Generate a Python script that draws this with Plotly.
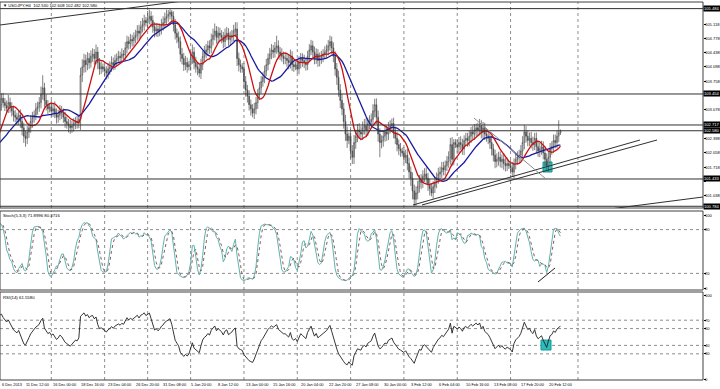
import numpy as np
import pandas as pd
import plotly.graph_objects as go
from datetime import datetime, timedelta, date

# ---------------- DATA ----------------
title_text = "USDJPY,H4  102.530 102.608 102.482 102.580"
stoch_text = "Stoch(5,3,3) 71.8996 80.3716"
rsi_text = "RSI(14) 61.5580"

# H4 closes, Dec 1 2013 (Sun 20:00) .. Feb 21 2014 20:00
close = [
 102.45,
 102.60, 102.75, 102.90, 103.10, 103.25, 103.10,
 102.95, 102.80, 102.65, 102.55, 102.60, 102.50,
 102.45, 102.35, 102.20, 102.05, 101.95, 102.15,
 102.10, 101.95, 101.85, 101.75, 101.95, 102.05,
 102.00, 102.10, 102.15, 102.30, 102.80, 102.90,
 102.95,
 103.05, 103.20, 103.35, 103.25, 103.18, 103.12,
 103.25, 103.15, 103.05, 102.95, 102.90, 102.85,
 102.95, 102.80, 102.65, 102.45, 102.40, 102.55,
 102.65, 102.80, 102.90, 102.95, 103.10, 103.15,
 103.25, 103.45, 103.60, 103.30, 103.20, 103.10,
 103.15,
 103.05, 103.10, 103.00, 102.90, 102.95, 103.05,
 103.00, 102.90, 102.80, 102.75, 102.70, 102.65,
 102.70, 102.75, 102.80, 102.78, 102.85, 103.90,
 104.10, 104.25, 104.15, 104.30, 104.20, 104.35,
 104.40, 104.30, 104.45, 104.20, 104.05, 104.10,
 104.05,
 104.00, 103.95, 104.05, 104.10, 104.20, 104.15,
 104.25, 104.30, 104.35, 104.32, 104.40, 104.38,
 104.55, 104.70, 104.65, 104.75, 104.72, 104.80,
 104.85, 104.95, 104.90, 105.05, 105.10, 105.20,
 105.15,
 105.25, 105.30, 105.20, 105.05, 104.95, 105.00,
 104.95, 105.00, 105.10, 105.15, 105.25, 105.30,
 105.35, 105.40, 105.30, 105.10, 104.90, 104.80,
 104.70, 104.40, 104.30, 104.15, 104.20, 104.10,
 104.15,
 104.30, 104.45, 104.20, 104.10, 104.05, 103.95,
 104.15, 104.35, 104.45, 104.50, 104.60, 104.55,
 104.75, 104.85, 104.95, 104.80, 104.90, 104.85,
 104.80, 104.70, 104.85, 104.90, 104.75, 104.80,
 104.85, 104.95, 105.00, 104.30, 104.15, 104.10,
 104.05,
 103.75, 103.55, 103.40, 103.20, 103.10, 103.00,
 103.10, 103.25, 103.45, 103.60, 103.75, 103.85,
 104.00, 104.15, 104.30, 104.40, 104.50, 104.45,
 104.55, 104.60, 104.45, 104.40, 104.35, 104.30,
 104.30, 104.25, 104.20, 104.35, 104.15, 104.10,
 104.15,
 104.05, 104.20, 104.30, 104.25, 104.20, 104.15,
 104.35, 104.50, 104.60, 104.45, 104.30, 104.40,
 104.25, 104.30, 104.35, 104.40, 104.45, 104.50,
 104.60, 104.70, 104.55, 104.35, 104.05, 103.85,
 103.55, 103.30, 103.10, 102.80, 102.50, 102.35,
 102.45,
 102.10, 101.95, 102.30, 102.45, 102.60, 102.55,
 102.50, 102.65, 102.70, 102.60, 102.75, 102.80,
 102.85, 103.05, 103.20, 102.90, 102.50, 102.30,
 102.35, 102.45, 102.55, 102.50, 102.65, 102.70,
 102.75, 102.55, 102.40, 102.25, 102.15, 102.10,
 102.05,
 101.95, 102.00, 101.80, 101.60, 101.45, 101.15,
 100.95, 101.10, 101.25, 101.40, 101.35, 101.50,
 101.55, 101.45, 101.30, 101.20, 101.10, 101.25,
 101.35, 101.45, 101.55, 101.60, 101.70, 101.65,
 101.75, 101.85, 101.95, 102.25, 101.90, 102.30,
 102.25,
 102.20, 102.30, 102.25, 102.15, 102.35, 102.40,
 102.35, 102.45, 102.55, 102.50, 102.60, 102.65,
 102.60, 102.70, 102.55, 102.65, 102.50, 102.45,
 102.40, 102.30, 102.15, 102.00, 101.85, 101.90,
 101.95, 101.85, 101.90, 101.80, 101.75, 101.80,
 101.75,
 101.70, 101.60, 101.80, 101.90, 101.95, 102.00,
 102.10, 102.30, 102.55, 102.45, 102.35, 102.40,
 102.30, 102.25, 102.40, 102.20, 102.10, 102.15,
 102.20, 102.05, 101.90, 101.75, 101.95, 102.15,
 102.20, 102.35, 102.30, 102.45, 102.53, 102.58,
]

# upper / lower shadows in 0.01 JPY
upper_wick = [
 8,
 14, 12, 16, 15, 20, 12,   11, 13, 12, 14, 11, 12,   12, 11, 14, 12, 16, 11,   13, 11, 12, 14, 11, 12,   11, 12, 11, 16, 25, 14,
 9,
 14, 16, 12, 13, 11, 12,   18, 12, 11, 13, 12, 11,   12, 14, 11, 12, 13, 14,   12, 15, 13, 11, 14, 12,   13, 18, 30, 12, 14, 11,
 8,
 16, 12, 18, 11, 13, 14,   12, 11, 13, 12, 11, 14,   12, 13, 11, 14, 12, 18,   18, 16, 14, 15, 13, 14,   14, 12, 18, 12, 11, 13,
 8,
 12, 11, 14, 13, 15, 12,   14, 12, 13, 11, 14, 10,   14, 14, 12, 13, 11, 12,   13, 14, 15, 14, 16, 14,
 9,
 18, 16, 12, 12, 11, 14,   12, 13, 14, 15, 14, 16,   10, 8, 5, 12, 14, 11,   14, 12, 15, 13, 16, 12,
 9,
 16, 18, 12, 14, 11, 12,   14, 13, 15, 14, 12, 13,   14, 16, 18, 12, 15, 13,   12, 13, 16, 15, 12, 14,   13, 15, 16, 16, 14, 12,
 9,
 14, 13, 12, 14, 12, 11,   14, 13, 12, 14, 13, 12,   13, 14, 12, 15, 14, 12,   14, 24, 13, 12, 14, 11,   13, 12, 14, 16, 12, 11,
 8,
 14, 15, 13, 12, 14, 11,   13, 14, 14, 12, 13, 14,   12, 14, 13, 12, 14, 13,   14, 14, 12, 13, 12, 14,   16, 14, 15, 14, 16, 18,
 9,
 16, 14, 18, 15, 14, 16,   14, 15, 16, 18, 14, 15,   14, 16, 14, 15, 16, 14,   12, 14, 15, 16, 14, 13,   12, 14, 13, 15, 12, 14,
 8,
 14, 13, 15, 14, 13, 14,   15, 16, 14, 13, 15, 14,   14, 16, 13, 14, 12, 13,   13, 14, 15, 13, 14, 14,   12, 13, 14, 16, 18, 8,
 8,
 12, 13, 15, 14, 12, 13,   13, 14, 12, 15, 14, 10,   12, 16, 13, 14, 12, 13,   14, 13, 15, 12, 13, 14,   13, 14, 12, 15, 13, 14,
 8,
 13, 14, 12, 15, 14, 13,   14, 15, 17, 14, 13, 14,   15, 14, 13, 14, 13, 14,   14, 13, 12, 14, 15, 14,   13, 14, 14, 14, 30, 3,
]
lower_wick = [
 8,
 16, 12, 11, 13, 12, 14,   13, 12, 14, 12, 13, 12,   11, 13, 12, 14, 12, 15,   12, 14, 13, 16, 11, 12,   14, 12, 13, 12, 18, 14,
 9,
 12, 11, 14, 12, 13, 12,   12, 14, 13, 15, 12, 13,   14, 15, 18, 16, 20, 14,   14, 12, 15, 13, 12, 14,   12, 14, 13, 16, 14, 12,
 8,
 13, 14, 12, 15, 13, 12,   14, 13, 15, 12, 16, 14,   12, 14, 13, 15, 14, 25,   16, 14, 18, 13, 15, 12,   13, 15, 14, 16, 14, 12,
 8,
 14, 15, 13, 14, 12, 13,   12, 13, 11, 14, 12, 11,   12, 13, 14, 12, 14, 13,   14, 13, 15, 12, 13, 14,
 9,
 13, 14, 16, 14, 15, 13,   14, 12, 13, 14, 12, 13,   13, 12, 14, 16, 15, 14,   16, 18, 14, 15, 13, 14,
 9,
 14, 13, 16, 14, 15, 10,   14, 13, 12, 15, 13, 14,   13, 14, 12, 15, 13, 14,   14, 16, 13, 12, 15, 13,   12, 14, 13, 18, 16, 14,
 9,
 18, 16, 15, 14, 16, 10,   14, 13, 15, 14, 13, 12,   14, 12, 13, 14, 12, 14,   13, 14, 15, 14, 13, 14,   14, 15, 16, 14, 15, 12,
 8,
 10, 13, 14, 15, 13, 14,   13, 14, 12, 15, 14, 13,   15, 14, 13, 14, 12, 13,   13, 12, 15, 14, 16, 18,   16, 18, 15, 17, 16, 18,
 9,
 18, 16, 16, 15, 14, 16,   15, 14, 16, 15, 14, 13,   14, 13, 15, 16, 18, 35,   14, 15, 13, 16, 14, 13,   13, 15, 14, 16, 15, 14,
 8,
 15, 14, 16, 15, 18, 20,   17, 16, 15, 14, 16, 13,   14, 13, 15, 16, 8, 14,   15, 14, 13, 15, 14, 13,   14, 13, 15, 18, 16, 14,
 8,
 14, 15, 13, 14, 15, 13,   15, 14, 16, 13, 14, 15,   14, 13, 15, 16, 14, 13,   14, 15, 16, 15, 16, 14,   15, 14, 16, 15, 14, 13,
 8,
 14, 12, 15, 14, 13, 14,   15, 14, 16, 15, 14, 13,   14, 15, 13, 16, 14, 15,   14, 15, 16, 10, 14, 13,   14, 15, 14, 13, 14, 5,
]

price_tick_labels = [105.118, 104.778, 104.438, 104.098, 103.758, 103.418, 103.078,
                     102.738, 102.398, 102.058, 101.718, 101.378, 101.038]
object_levels = [105.484, 103.454, 102.717, 102.580, 101.433, 100.784]

x_label_first = "6 Dec 2013"
x_label_times = ["2013-12-11 12:00", "2013-12-16 00:00", "2013-12-18 16:00", "2013-12-23 04:00",
                 "2013-12-26 20:00", "2013-12-31 08:00", "2014-01-05 20:00", "2014-01-08 12:00",
                 "2014-01-13 00:00", "2014-01-15 16:00", "2014-01-20 04:00", "2014-01-22 20:00",
                 "2014-01-27 08:00", "2014-01-30 00:00", "2014-02-03 12:00", "2014-02-06 04:00",
                 "2014-02-10 16:00", "2014-02-13 08:00", "2014-02-17 20:00", "2014-02-20 12:00"]

stoch_ticks = [100, 80, 20, 0]
stoch_levels = [80, 20]
rsi_ticks = [100, 70, 60, 40, 30, 0]
rsi_levels = [70, 60, 40, 30]

# ---------------- TIME AXIS ----------------
holidays = {date(2013, 12, 25), date(2014, 1, 1)}
times = []
d = date(2013, 12, 1)
while d <= date(2014, 2, 21):
    wd = d.weekday()
    if d not in holidays and wd != 5:
        for h in ([20] if wd == 6 else [0, 4, 8, 12, 16, 20]):
            times.append(datetime(d.year, d.month, d.day, h))
    d += timedelta(days=1)
assert len(times) == len(close) == len(upper_wick) == len(lower_wick)
tindex = {t: i for i, t in enumerate(times)}
def bi(s):
    return tindex[datetime.strptime(s, "%Y-%m-%d %H:%M")]

n = len(close)
idx = np.arange(n)
c = np.array(close)
o = np.r_[c[0] - 0.05, c[:-1]]
hi = np.maximum(o, c) + np.array(upper_wick) / 100.0
lo = np.minimum(o, c) - np.array(lower_wick) / 100.0

# indicators
s = pd.Series(c)
ma_fast = s.rolling(10).mean()
ma_slow = s.rolling(21).mean()

hh = pd.Series(hi).rolling(5).max()
ll = pd.Series(lo).rolling(5).min()
k_main = 100 * (s - ll).rolling(3).sum() / (hh - ll).rolling(3).sum()
k_sig = k_main.rolling(3).mean()

delta = s.diff()
up = delta.clip(lower=0)
dn = (-delta).clip(lower=0)
avg_up = up.ewm(alpha=1 / 14, adjust=False).mean()
avg_dn = dn.ewm(alpha=1 / 14, adjust=False).mean()
rsi = 100 - 100 / (1 + avg_up / avg_dn)

# ---------------- LAYOUT GEOMETRY ----------------
W, H = 720, 389
PW = 703
BAR_PX = 1.72
k0 = bi("2013-12-09 00:00")
x_min = k0 + 2 / BAR_PX
x_max = x_min + PW / BAR_PX

def py(p):
    return 1 - p / H

main_dom = [py(208), py(2)]
st_dom = [py(290), py(211)]
rs_dom = [py(380), py(292)]

P_PER_PX = 0.34 / 14.3
main_rng = [105.118 - (208 - 24) * P_PER_PX, 105.118 + (24 - 2) * P_PER_PX]
st_rng = [0 - (290 - 288) / 0.73, 100 + (215 - 211) / 0.73]
rs_rng = [0 - (380 - 379) / 0.84, 100 + (295 - 292) / 0.84]

FONT = "Liberation Sans, Arial, sans-serif"
FS = 4.1

fig = go.Figure()
fig.add_trace(go.Candlestick(
    x=idx, open=o, high=hi, low=lo, close=c,
    increasing=dict(line=dict(color="#4a4a4a", width=0.7), fillcolor="#ffffff"),
    decreasing=dict(line=dict(color="#4a4a4a", width=0.7), fillcolor="#4a4a4a"),
    whiskerwidth=0, xaxis="x", yaxis="y", showlegend=False, hoverinfo="skip"))
fig.add_trace(go.Scatter(x=idx, y=ma_slow, mode="lines", line=dict(color="#1a1aa0", width=1.3),
                         xaxis="x", yaxis="y", showlegend=False, hoverinfo="skip"))
fig.add_trace(go.Scatter(x=idx, y=ma_fast, mode="lines", line=dict(color="#cc1010", width=1.3),
                         xaxis="x", yaxis="y", showlegend=False, hoverinfo="skip"))
fig.add_trace(go.Scatter(x=idx, y=k_main, mode="lines", line=dict(color="#5fb3ae", width=1),
                         xaxis="x", yaxis="y2", showlegend=False, hoverinfo="skip"))
fig.add_trace(go.Scatter(x=idx, y=k_sig, mode="lines", line=dict(color="#8a5a5a", width=1, dash="dot"),
                         xaxis="x", yaxis="y2", showlegend=False, hoverinfo="skip"))
fig.add_trace(go.Scatter(x=idx, y=rsi, mode="lines", line=dict(color="#202020", width=0.9),
                         xaxis="x", yaxis="y3", showlegend=False, hoverinfo="skip"))

shapes = []
grid_x = [i for i, t in enumerate(times) if t.weekday() == 0 and t.hour == 0 and i > x_min]
grid_x.append(n - 1 + 10.2)
for gx in grid_x:
    for dom in (main_dom, st_dom, rs_dom):
        shapes.append(dict(type="line", xref="x", yref="paper", x0=gx, x1=gx, y0=dom[0], y1=dom[1],
                           line=dict(color="#707070", width=0.8, dash="dot"), layer="below"))
for lv in stoch_levels:
    shapes.append(dict(type="line", xref="paper", yref="y2", x0=0, x1=1, y0=lv, y1=lv,
                       line=dict(color="#707070", width=0.8, dash="dot"), layer="below"))
for lv in rsi_levels:
    shapes.append(dict(type="line", xref="paper", yref="y3", x0=0, x1=1, y0=lv, y1=lv,
                       line=dict(color="#707070", width=0.8, dash="dot"), layer="below"))
shapes.append(dict(type="rect", xref="x", yref="y", x0=k0 + 545 / BAR_PX, x1=k0 + 554 / BAR_PX,
                   y0=101.599, y1=101.837, fillcolor="#2cbcbc", line=dict(color="#139a9a", width=1), layer="below"))
shapes.append(dict(type="rect", xref="x", yref="y3", x0=k0 + 543 / BAR_PX, x1=k0 + 553 / BAR_PX,
                   y0=34.5, y1=46.4, fillcolor="#2cbcbc", line=dict(color="#139a9a", width=1), layer="below"))
for lv in object_levels:
    shapes.append(dict(type="line", xref="paper", yref="y", x0=0, x1=1, y0=lv, y1=lv,
                       line=dict(color="#303030", width=1)))
trend_lines = [
    (k0 + 2 / BAR_PX, 105.094, k0 + 185 / BAR_PX, 105.665, "#303030"),
    (k0 + 415 / BAR_PX, 100.815, k0 + 642 / BAR_PX, 102.360, "#303030"),
    (k0 + 424 / BAR_PX, 100.815, k0 + 659 / BAR_PX, 102.360, "#303030"),
    (k0 + 476 / BAR_PX, 102.883, k0 + 548 / BAR_PX, 101.433, "#8c8c8c"),
    (k0 + 612 / BAR_PX, 100.72, k0 + 705 / BAR_PX, 101.005, "#303030"),
]
for x0, y0, x1, y1, col in trend_lines:
    shapes.append(dict(type="line", xref="x", yref="y", x0=x0, x1=x1, y0=y0, y1=y1,
                       line=dict(color=col, width=1)))
shapes.append(dict(type="line", xref="x", yref="y2", x0=k0 + 540 / BAR_PX, x1=k0 + 557 / BAR_PX,
                   y0=8.2, y1=27.4, line=dict(color="#202020", width=1)))
for dom in (main_dom, st_dom, rs_dom):
    shapes.append(dict(type="rect", xref="paper", yref="paper", x0=0, x1=1, y0=dom[0], y1=dom[1],
                       line=dict(color="#404040", width=1), fillcolor="rgba(0,0,0,0)"))

ann = []
def txt(xp, ypix, text, size=FS, xanchor="left", **kw):
    ann.append(dict(xref="paper", yref="paper", x=xp / PW, y=py(ypix), text=text, showarrow=False,
                    xanchor=xanchor, yanchor="middle", borderpad=0,
                    font=dict(family=FONT, size=size, color="#000"), **kw))

txt(2, 5, "\u25bc " + title_text, size=4.2)
txt(2, 215, stoch_text, size=4.3)
txt(2, 297, rsi_text, size=4.3)
txt(1, 384, x_label_first, size=3.9)
for s_t in x_label_times:
    t = datetime.strptime(s_t, "%Y-%m-%d %H:%M")
    lab = f"{t.day} {t:%b} {t:%H:%M}"
    ann.append(dict(xref="x", yref="paper", x=tindex[t], y=py(384), text=lab, showarrow=False,
                    xanchor="left", yanchor="middle", xshift=1, borderpad=0,
                    font=dict(family=FONT, size=3.9, color="#000")))

def right_label(yref, v, text, hl=False):
    ann.append(dict(xref="paper", yref=yref, x=1, y=v, text=text, showarrow=False,
                    xanchor="left", yanchor="middle", xshift=0 if hl else 1, borderpad=0,
                    bgcolor="#000000" if hl else None,
                    font=dict(family=FONT, size=FS, color="#ffffff" if hl else "#000000")))

for v in price_tick_labels:
    if min(abs(v - lv) for lv in object_levels) / P_PER_PX > 5:
        right_label("y", v, f"{v:.3f}")
for v in stoch_ticks:
    right_label("y2", v, str(v))
for v in rsi_ticks:
    right_label("y3", v, str(v))
for lv in object_levels:
    right_label("y", lv, f"{lv:.3f}", hl=True)

axis_common = dict(showgrid=False, zeroline=False, side="right", anchor="x", ticks="outside",
                   ticklen=2, tickcolor="#000", showticklabels=False, showline=False, fixedrange=True)
fig.update_layout(
    width=W, height=H, margin=dict(l=0, r=W - PW, t=0, b=0),
    paper_bgcolor="white", plot_bgcolor="white",
    xaxis=dict(range=[x_min, x_max], showgrid=False, zeroline=False, showticklabels=False,
               ticks="", showline=False, rangeslider=dict(visible=False)),
    yaxis=dict(domain=main_dom, range=main_rng, tickvals=price_tick_labels, **axis_common),
    yaxis2=dict(domain=st_dom, range=st_rng, tickvals=stoch_ticks, **axis_common),
    yaxis3=dict(domain=rs_dom, range=rs_rng, tickvals=rsi_ticks, **axis_common),
    shapes=shapes, annotations=ann, showlegend=False,
)
fig.write_html("out.html", config={"displayModeBar": False},
               post_script="document.body.style.margin='0';document.body.style.overflow='hidden';")
